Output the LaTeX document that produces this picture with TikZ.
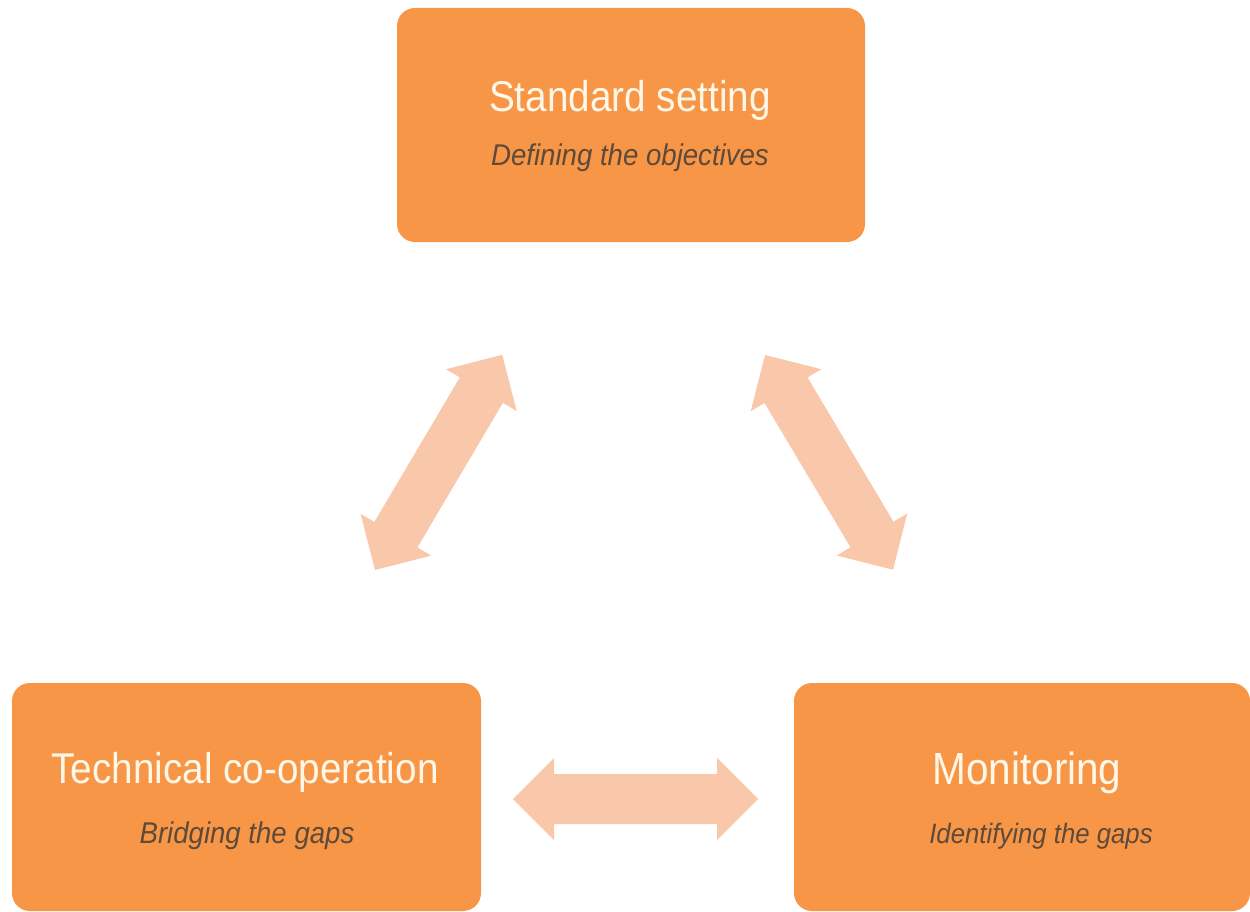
\documentclass[tikz,border=0pt]{standalone}
\usepackage{fontspec}
\setmainfont{Liberation Sans}
\newfontfamily\titlefont[FakeStretch=0.9]{Liberation Sans}
\newfontfamily\subfont[FakeStretch=0.92]{Liberation Sans}
\definecolor{boxorange}{HTML}{F79646}
\definecolor{titlecol}{HTML}{FFF7E8}
\definecolor{subcol}{HTML}{5E4A3A}
\definecolor{arrowfill}{HTML}{F9C7A9}
\begin{document}
\begin{tikzpicture}[x=1pt,y=1pt,
  box/.style={fill=boxorange, draw=none, rounded corners=18pt, inner sep=0pt},
  titletext/.style={anchor=base, inner sep=0pt, text=titlecol, font=\titlefont\fontsize{43}{50}\selectfont},
  subtext/.style={anchor=base, inner sep=0pt, text=subcol, font=\subfont\itshape\fontsize{30}{36}\selectfont},
  pics/dblarr/.style={code={
    \fill[arrowfill] (0,0) -- (41,41) -- (41,25) -- (#1-41,25) -- (#1-41,41)
      -- (#1,0) -- (#1-41,-41) -- (#1-41,-25) -- (41,-25) -- (41,-41) -- cycle;}}]
\useasboundingbox (0,0) rectangle (1250,-912);
\fill[white] (0,0) rectangle (1250,-912);
% boxes
\node[box, minimum width=468pt, minimum height=234pt] (std) at (631,-125) {};
\node[box, minimum width=469pt, minimum height=228pt] (tech) at (246.5,-797) {};
\node[box, minimum width=456pt, minimum height=228pt] (mon) at (1022,-797) {};
% texts
\node[titletext] (stdT) at (630,-112) {Standard setting};
\node[subtext] (stdS) at (630,-166) {Defining the objectives};
\node[titletext] (techT) at (245,-783) {Technical co-operation};
\node[subtext] (techS) at (247,-843) {Bridging the gaps};
\node[titletext, font=\titlefont\fontsize{45}{52}\selectfont] (monT) at (1027,-784) {Monitoring};
\node[subtext, font=\subfont\itshape\fontsize{28}{34}\selectfont] (monS) at (1041,-843) {Identifying the gaps};
% arrows
\coordinate (a1s) at (375,-570);
\coordinate (a2s) at (765,-355);
\coordinate (a3s) at (513,-799);
\pic[rotate=59.4] at (a1s) {dblarr=250};
\pic[rotate=-59.2] at (a2s) {dblarr=250};
\pic at (a3s) {dblarr=245};
\end{tikzpicture}
\end{document}
